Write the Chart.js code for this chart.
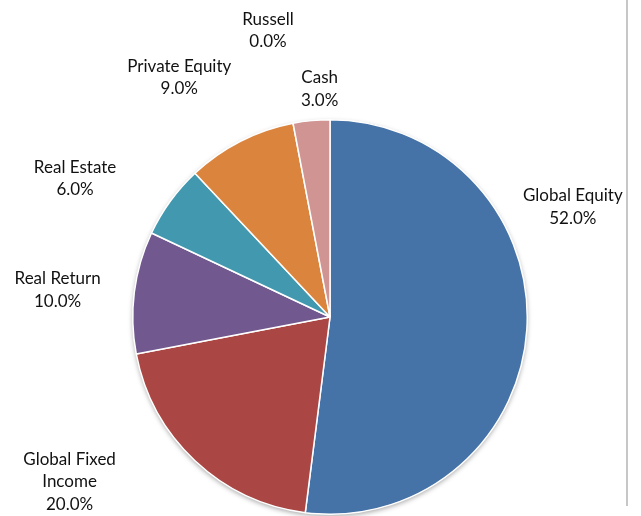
<!DOCTYPE html>
<html>
<head>
<meta charset="utf-8">
<script src="https://cdn.jsdelivr.net/npm/chart.js@4/dist/chart.umd.min.js"></script>
<style>
  html, body { margin: 0; padding: 0; background: #fff; }
  #wrap { width: 641px; height: 516px; position: relative; }
</style>
</head>
<body>
<div id="wrap"><canvas id="allocChart" width="641" height="516"></canvas></div>
<script>
// 🔹 ALLOCATION DATA
const categories = ["Global Equity", "Global Fixed Income", "Real Return", "Real Estate", "Private Equity", "Cash", "Russell"];
const weights = [52.0, 20.0, 10.0, 6.0, 9.0, 3.0, 0.0];
const sliceColors = ["#4572a7", "#aa4643", "#71588f", "#4198af", "#db843d", "#d09593", "#93a9cf"];

// label text split over lines (Excel wraps the long one)
const labelLines = [["Global Equity"], ["Global Fixed", "Income"], ["Real Return"], ["Real Estate"], ["Private Equity"], ["Cash"], ["Russell"]];
// nudge from the default spot just outside each slice
const labelNudge = [[6, -125], [-98, -8], [-37, 3], [-63, 1], [-43, -28], [12, 8], [-62, -49]];


// 🔹 SOFT SHADOW UNDER THE PIE
const pieShadow = {
    id: 'pieShadow',
    beforeDatasetsDraw(chart) {
        const arc = chart.getDatasetMeta(0).data[0];
        if (!arc) return;
        const ctx = chart.ctx;
        ctx.save();
        ctx.shadowColor = 'rgba(0,0,0,0.35)';
        ctx.shadowBlur = 5;
        ctx.shadowOffsetY = 2;
        ctx.fillStyle = '#fff';
        ctx.beginPath();
        ctx.arc(arc.x, arc.y, arc.outerRadius, 0, Math.PI * 2);
        ctx.fill();
        ctx.restore();
    }
};


// 🔹 OUTSIDE LABELS + FRAME LINE
const outsideLabels = {
    id: 'outsideLabels',
    afterDraw(chart) {
        const ctx = chart.ctx;
        const meta = chart.getDatasetMeta(0);
        ctx.save();
        ctx.font = '17px Lato, "Open Sans", sans-serif';
        ctx.fillStyle = '#111';
        ctx.textAlign = 'center';
        ctx.textBaseline = 'middle';

        meta.data.forEach((arc, i) => {
            const mid = (arc.startAngle + arc.endAngle) / 2;
            const dist = arc.outerRadius + 40;
            const x = arc.x + Math.cos(mid) * dist + labelNudge[i][0];
            const y = arc.y + Math.sin(mid) * dist + labelNudge[i][1];
            const lines = labelLines[i].concat([weights[i].toFixed(1) + '%']);
            const lh = 22.5;
            const top = y - (lines.length - 1) * lh / 2;
            lines.forEach((t, k) => ctx.fillText(t, x, top + k * lh));
        });

        // right-hand frame edge
        ctx.strokeStyle = '#b4b4b4';
        ctx.lineWidth = 1.5;
        ctx.beginPath();
        ctx.moveTo(627, 0);
        ctx.lineTo(627, 506);
        ctx.stroke();
        ctx.restore();
    }
};


// 🔹 CHART
const ctx = document.getElementById('allocChart').getContext('2d');

new Chart(ctx, {
    type: 'pie',
    data: {
        labels: categories,
        datasets: [{
            data: weights,
            backgroundColor: sliceColors,
            borderColor: '#ffffff',
            borderWidth: 1.5
        }]
    },
    options: {
        responsive: false,
        animation: false,
        layout: {
            padding: { left: 132, right: 113, top: 119, bottom: 1 }
        },
        plugins: {
            legend: { display: false },
            tooltip: { enabled: false }
        }
    },
    plugins: [pieShadow, outsideLabels]
});
</script>
</body>
</html>
